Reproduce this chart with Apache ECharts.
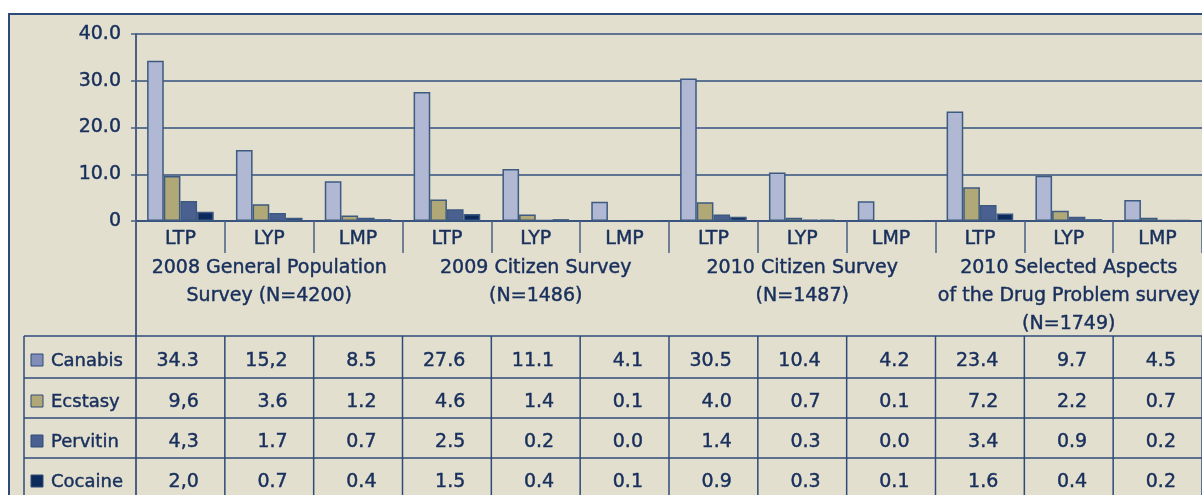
<!DOCTYPE html>
<html>
<head>
<meta charset="utf-8">
<script src="https://cdn.jsdelivr.net/npm/echarts@6/dist/echarts.min.js"></script>
<style>
  html, body { margin: 0; padding: 0; background: #ffffff; }
  #chart { width: 1202px; height: 495px; }
</style>
</head>
<body>
<div id="chart"></div>
<script>
// ---- data ----
const categories = ['LTP', 'LYP', 'LMP', 'LTP', 'LYP', 'LMP', 'LTP', 'LYP', 'LMP', 'LTP', 'LYP', 'LMP'];
const groupLabels = [
  '2008 General Population\nSurvey (N=4200)',
  '2009 Citizen Survey\n(N=1486)',
  '2010 Citizen Survey\n(N=1487)',
  '2010 Selected Aspects\nof the Drug Problem survey\n(N=1749)'
];
const seriesNames = ['Canabis', 'Ecstasy', 'Pervitin', 'Cocaine'];
// table texts as printed (some use decimal commas)
const canabisText  = ['34.3', '15,2', '8.5', '27.6', '11.1', '4.1', '30.5', '10.4', '4.2', '23.4', '9.7', '4.5'];
const ecstasyText  = ['9,6', '3.6', '1.2', '4.6', '1.4', '0.1', '4.0', '0.7', '0.1', '7.2', '2.2', '0.7'];
const pervitinText = ['4,3', '1.7', '0.7', '2.5', '0.2', '0.0', '1.4', '0.3', '0.0', '3.4', '0.9', '0.2'];
const cocaineText  = ['2,0', '0.7', '0.4', '1.5', '0.4', '0.1', '0.9', '0.3', '0.1', '1.6', '0.4', '0.2'];
const yTicks = [0, 10, 20, 30, 40];

// ---- styles ----
const tableTexts = [canabisText, ecstasyText, pervitinText, cocaineText];
const toNum = s => parseFloat(s.replace(',', '.'));
const barColors = ['#b0b8d4', '#b1a877', '#4a6090', '#0c2a5c'];
const legendColors = ['#7f8db8', '#b1a877', '#4a6090', '#0c2a5c'];
const textColor = '#182f5c';
const lineColor = '#2e4a78';
const gridColor = '#5f7392';
const FONT = 'DejaVu Sans';
const TB = 0.45; // faux medium weight

const chart = echarts.init(document.getElementById('chart'), null, { renderer: 'canvas' });

const option = {
  backgroundColor: '#ffffff',
  animation: false,
  grid: { left: 136, right: -2, top: 34, bottom: 274, containLabel: false },
  xAxis: {
    type: 'category',
    data: categories,
    axisLine: { show: true, lineStyle: { color: lineColor, width: 1.5 } },
    axisTick: { show: true, interval: 0, length: 32, lineStyle: { color: '#4a6085', width: 1.5 } },
    axisLabel: { interval: 0, color: textColor, fontFamily: FONT, fontSize: 19, margin: 9, lineHeight: 19,
      textBorderColor: textColor, textBorderWidth: TB }
  },
  yAxis: {
    type: 'value',
    min: yTicks[0],
    max: yTicks[yTicks.length - 1],
    interval: 10,
    axisLine: { show: true, lineStyle: { color: '#4a6085', width: 2 } },
    axisTick: { show: true, length: 5, lineStyle: { color: '#4a6085', width: 1.5 } },
    splitLine: { show: true, lineStyle: { color: gridColor, width: 2 } },
    axisLabel: {
      color: textColor, fontFamily: FONT, fontSize: 19, margin: 15,
      textBorderColor: textColor, textBorderWidth: TB,
      formatter: v => (v === 0 ? '0' : v.toFixed(1))
    }
  },
  series: seriesNames.map((name, i) => ({
    name: name,
    type: 'bar',
    data: tableTexts[i].map(toNum),
    barGap: '0%',
    barCategoryGap: '25%',
    itemStyle: { color: barColors[i], borderColor: '#3d5a80', borderWidth: 1.5 }
  }))
};
chart.setOption(option);

// ---- frame, group labels and data table (positioned via the category axis) ----
function buildGraphics() {
  const c0 = chart.convertToPixel({ xAxisIndex: 0 }, 0);
  const c1 = chart.convertToPixel({ xAxisIndex: 0 }, 1);
  const bw = c1 - c0;
  const left = c0 - bw / 2;
  const n = categories.length;
  const yZero = chart.convertToPixel({ yAxisIndex: 0 }, 0);
  const W = 1202, H = 495;
  const tableTop = 336;
  const rowH = [42, 40, 40, 40];
  const els = [];
  const txt = (size) => ({ font: size + 'px "' + FONT + '"', fill: textColor, stroke: textColor, lineWidth: TB });

  // beige frame
  els.push({
    type: 'rect', z: -10, silent: true,
    shape: { x: 9, y: 14, width: W + 10, height: H + 10 },
    style: { fill: '#e2dfcf', stroke: lineColor, lineWidth: 2 }
  });
  // y axis extension down to bottom
  els.push({ type: 'line', z: 5, shape: { x1: left, y1: yZero, x2: left, y2: H + 5 },
    style: { stroke: '#4a6085', lineWidth: 2 } });

  // group labels
  groupLabels.forEach((g, gi) => {
    const cx = left + bw * (gi * 3 + 1.5);
    els.push({
      type: 'text', z: 5,
      style: Object.assign({
        x: cx, y: 254, text: g, align: 'center', verticalAlign: 'top', lineHeight: 28
      }, txt(19))
    });
  });

  // table horizontal lines
  let y = tableTop;
  const rowYs = [];
  for (let r = 0; r <= rowH.length; r++) {
    els.push({ type: 'line', z: 5, shape: { x1: 24, y1: y, x2: W + 5, y2: y },
      style: { stroke: lineColor, lineWidth: 1.5 } });
    if (r < rowH.length) { rowYs.push(y + rowH[r] / 2 + 4); y += rowH[r]; }
  }
  // table vertical lines
  els.push({ type: 'line', z: 5, shape: { x1: 24, y1: tableTop, x2: 24, y2: H + 5 },
    style: { stroke: lineColor, lineWidth: 1.5 } });
  for (let i = 1; i <= n; i++) {
    const x = left + bw * i;
    els.push({ type: 'line', z: 5, shape: { x1: x, y1: tableTop, x2: x, y2: H + 5 },
      style: { stroke: lineColor, lineWidth: 1.5 } });
  }
  // legend cells
  seriesNames.forEach((name, r) => {
    els.push({ type: 'rect', z: 6, shape: { x: 31, y: rowYs[r] - 7, width: 12, height: 12 },
      style: { fill: legendColors[r], stroke: '#2e4a78', lineWidth: 1 } });
    els.push({ type: 'text', z: 6, style: Object.assign({
      x: 51, y: rowYs[r], text: name, align: 'left', verticalAlign: 'middle' }, txt(18)) });
  });
  // value cells
  tableTexts.forEach((row, r) => {
    row.forEach((t, i) => {
      const xr = left + bw * (i + 1) - 26;
      els.push({ type: 'text', z: 6, style: Object.assign({
        x: xr, y: rowYs[r], text: t, align: 'right', verticalAlign: 'middle' }, txt(19)) });
    });
  });
  chart.setOption({ graphic: { elements: els } });
}
buildGraphics();
</script>
</body>
</html>
